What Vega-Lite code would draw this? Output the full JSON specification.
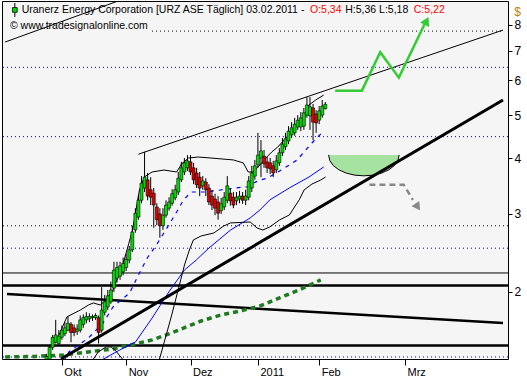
{
"$schema": "https://vega.github.io/schema/vega-lite/v6.json",
"width": 506, "height": 358,
"autosize": {"type": "none"},
"padding": {"left": 2, "top": 1, "right": 19, "bottom": 21},
"background": "white",
"view": {"fill": "#f5f5f5", "stroke": "#000000", "strokeWidth": 1},
"config": {"font": "Liberation Sans"},
"resolve": {"axis": {"x": "independent", "y": "independent"}},
"datasets": {
"candles": [
{"i":-5,"o":1.40,"h":1.45,"l":1.38,"c":1.43},
{"i":-4,"o":1.41,"h":1.52,"l":1.39,"c":1.50},
{"i":-3,"o":1.50,"h":1.60,"l":1.48,"c":1.58},
{"i":-2,"o":1.54,"h":1.73,"l":1.53,"c":1.60},
{"i":-1,"o":1.53,"h":1.64,"l":1.52,"c":1.59},
{"i":0,"o":1.58,"h":1.68,"l":1.56,"c":1.64},
{"i":1,"o":1.61,"h":1.71,"l":1.59,"c":1.66},
{"i":2,"o":1.64,"h":1.76,"l":1.63,"c":1.70},
{"i":3,"o":1.69,"h":1.71,"l":1.54,"c":1.62},
{"i":4,"o":1.66,"h":1.69,"l":1.59,"c":1.62},
{"i":5,"o":1.63,"h":1.69,"l":1.60,"c":1.65},
{"i":6,"o":1.64,"h":1.77,"l":1.62,"c":1.73},
{"i":7,"o":1.69,"h":1.78,"l":1.66,"c":1.75},
{"i":8,"o":1.73,"h":1.80,"l":1.70,"c":1.76},
{"i":9,"o":1.74,"h":1.79,"l":1.71,"c":1.76},
{"i":10,"o":1.75,"h":1.78,"l":1.72,"c":1.76},
{"i":11,"o":1.75,"h":1.79,"l":1.73,"c":1.77},
{"i":12,"o":1.75,"h":1.77,"l":1.53,"c":1.62},
{"i":13,"o":1.64,"h":2.05,"l":1.62,"c":1.82},
{"i":14,"o":1.80,"h":1.97,"l":1.77,"c":1.90},
{"i":15,"o":1.85,"h":2.02,"l":1.82,"c":1.96},
{"i":16,"o":1.90,"h":2.11,"l":1.88,"c":2.02},
{"i":17,"o":2.04,"h":2.34,"l":2.00,"c":2.24},
{"i":18,"o":2.15,"h":2.34,"l":2.10,"c":2.27},
{"i":19,"o":2.17,"h":2.34,"l":2.13,"c":2.29},
{"i":20,"o":2.22,"h":2.39,"l":2.18,"c":2.32},
{"i":21,"o":2.27,"h":2.44,"l":2.23,"c":2.37},
{"i":22,"o":2.36,"h":2.54,"l":2.32,"c":2.49},
{"i":23,"o":2.49,"h":2.82,"l":2.46,"c":2.73},
{"i":24,"o":2.76,"h":3.09,"l":2.72,"c":3.01},
{"i":25,"o":2.95,"h":3.31,"l":2.91,"c":3.22},
{"i":26,"o":3.22,"h":3.65,"l":3.17,"c":3.52},
{"i":27,"o":3.43,"h":4.14,"l":3.36,"c":3.63},
{"i":28,"o":3.58,"h":3.71,"l":3.22,"c":3.29},
{"i":29,"o":3.40,"h":3.63,"l":3.14,"c":3.27},
{"i":30,"o":3.34,"h":3.43,"l":2.79,"c":3.14},
{"i":31,"o":3.11,"h":3.17,"l":2.83,"c":2.91},
{"i":32,"o":3.00,"h":3.09,"l":2.65,"c":2.82},
{"i":33,"o":2.82,"h":3.09,"l":2.76,"c":2.98},
{"i":34,"o":2.98,"h":3.22,"l":2.94,"c":3.14},
{"i":35,"o":3.09,"h":3.27,"l":3.05,"c":3.19},
{"i":36,"o":3.17,"h":3.41,"l":3.13,"c":3.33},
{"i":37,"o":3.26,"h":3.49,"l":3.22,"c":3.40},
{"i":38,"o":3.36,"h":3.73,"l":3.31,"c":3.61},
{"i":39,"o":3.58,"h":3.93,"l":3.54,"c":3.81},
{"i":40,"o":3.73,"h":4.01,"l":3.67,"c":3.91},
{"i":41,"o":3.81,"h":4.07,"l":3.75,"c":3.95},
{"i":42,"o":3.93,"h":4.07,"l":3.67,"c":3.73},
{"i":43,"o":3.81,"h":3.91,"l":3.50,"c":3.58},
{"i":44,"o":3.71,"h":3.81,"l":3.43,"c":3.49},
{"i":45,"o":3.63,"h":3.73,"l":3.29,"c":3.43},
{"i":46,"o":3.47,"h":3.65,"l":3.40,"c":3.56},
{"i":47,"o":3.54,"h":3.61,"l":3.29,"c":3.40},
{"i":48,"o":3.43,"h":3.50,"l":3.14,"c":3.19},
{"i":49,"o":3.29,"h":3.40,"l":3.06,"c":3.14},
{"i":50,"o":3.24,"h":3.33,"l":2.98,"c":3.09},
{"i":51,"o":3.19,"h":3.29,"l":2.91,"c":3.01},
{"i":52,"o":3.05,"h":3.26,"l":3.00,"c":3.16},
{"i":53,"o":3.11,"h":3.36,"l":3.06,"c":3.27},
{"i":54,"o":3.22,"h":3.65,"l":3.17,"c":3.47},
{"i":55,"o":3.34,"h":3.43,"l":3.13,"c":3.21},
{"i":56,"o":3.27,"h":3.36,"l":3.09,"c":3.14},
{"i":57,"o":3.21,"h":3.36,"l":3.14,"c":3.27},
{"i":58,"o":3.24,"h":3.38,"l":3.17,"c":3.29},
{"i":59,"o":3.29,"h":3.36,"l":3.16,"c":3.22},
{"i":60,"o":3.22,"h":3.40,"l":3.14,"c":3.29},
{"i":61,"o":3.27,"h":3.65,"l":3.22,"c":3.56},
{"i":62,"o":3.43,"h":3.85,"l":3.36,"c":3.71},
{"i":63,"o":3.65,"h":3.97,"l":3.58,"c":3.85},
{"i":64,"o":3.87,"h":4.57,"l":3.81,"c":4.07},
{"i":65,"o":4.01,"h":4.40,"l":3.63,"c":4.16},
{"i":66,"o":4.05,"h":4.18,"l":3.81,"c":3.89},
{"i":67,"o":3.93,"h":4.03,"l":3.71,"c":3.81},
{"i":68,"o":3.91,"h":4.01,"l":3.69,"c":3.79},
{"i":69,"o":3.85,"h":3.95,"l":3.63,"c":3.71},
{"i":70,"o":3.77,"h":4.07,"l":3.71,"c":3.95},
{"i":71,"o":3.91,"h":4.22,"l":3.85,"c":4.12},
{"i":72,"o":4.12,"h":4.45,"l":4.05,"c":4.31},
{"i":73,"o":4.25,"h":4.57,"l":4.18,"c":4.43},
{"i":74,"o":4.38,"h":4.73,"l":4.31,"c":4.61},
{"i":75,"o":4.52,"h":4.83,"l":4.45,"c":4.69},
{"i":76,"o":4.57,"h":4.94,"l":4.50,"c":4.78},
{"i":77,"o":4.71,"h":5.01,"l":4.64,"c":4.88},
{"i":78,"o":4.71,"h":5.09,"l":4.61,"c":4.94},
{"i":79,"o":4.73,"h":5.20,"l":4.64,"c":5.07},
{"i":80,"o":5.01,"h":5.50,"l":4.94,"c":5.28},
{"i":81,"o":4.99,"h":5.50,"l":4.64,"c":5.23},
{"i":82,"o":5.20,"h":5.31,"l":4.40,"c":4.83},
{"i":83,"o":5.04,"h":5.14,"l":4.57,"c":4.81},
{"i":84,"o":4.88,"h":5.25,"l":4.78,"c":5.12},
{"i":85,"o":5.01,"h":5.42,"l":4.94,"c":5.25},
{"i":86,"o":5.18,"h":5.36,"l":5.16,"c":5.30}
],
"trendA": [{"i":-18.54,"v":7.32},{"i":23.06,"v":9.31}],
"trendB": [{"i":25.0,"v":4.09},{"i":144,"v":7.79}],
"rise": [{"i":-0.3,"v":1.412},{"i":144,"v":5.42}],
"fall": [{"i":-17.9,"v":1.979},{"i":144,"v":1.703}],
"maGreen": [{"i":-18.5,"v":1.427},{"i":-8.9,"v":1.431},{"i":0.69,"v":1.442},{"i":8.69,"v":1.465},{"i":16.69,"v":1.488},{"i":24.05,"v":1.527},{"i":29.48,"v":1.559},{"i":34.92,"v":1.608},{"i":40.68,"v":1.668},{"i":45.48,"v":1.720},{"i":51.88,"v":1.775},{"i":58.28,"v":1.812},{"i":64.67,"v":1.860},{"i":71.07,"v":1.939},{"i":77.47,"v":2.021},{"i":84.51,"v":2.129}],
"maBlue": [{"i":11.89,"v":1.391},{"i":18.93,"v":1.480},{"i":24.05,"v":1.543},{"i":29.48,"v":1.747},{"i":34.92,"v":2.0},{"i":40.04,"v":2.242},{"i":43.88,"v":2.361},{"i":48.04,"v":2.513},{"i":55.08,"v":2.759},{"i":61.48,"v":2.937},{"i":64.67,"v":3.062},{"i":67.87,"v":3.225},{"i":74.27,"v":3.432},{"i":80.67,"v":3.633},{"i":85.47,"v":3.827}],
"maBlueDash": [{"i":0.69,"v":1.391},{"i":2.29,"v":1.465},{"i":8.69,"v":1.575},{"i":13.49,"v":1.703},{"i":16.69,"v":1.850},{"i":22.13,"v":1.990},{"i":25.33,"v":2.207},{"i":27.89,"v":2.386},{"i":31.08,"v":2.566},{"i":34.92,"v":2.832},{"i":37.48,"v":3.030},{"i":39.72,"v":3.225},{"i":42.28,"v":3.361},{"i":47.08,"v":3.361},{"i":51.88,"v":3.396},{"i":56.68,"v":3.432},{"i":60.51,"v":3.452},{"i":62.43,"v":3.519},{"i":64.67,"v":3.576},{"i":67.23,"v":3.614},{"i":72.67,"v":3.807},{"i":76.83,"v":3.969},{"i":79.07,"v":4.137},{"i":81.63,"v":4.335},{"i":84.83,"v":4.567}],
"bandUp": [{"i":-0.91,"v":1.600},{"i":1.65,"v":1.757},{"i":6.13,"v":1.822},{"i":8.69,"v":1.869},{"i":10.29,"v":1.889},{"i":12.53,"v":1.869},{"i":14.45,"v":1.919},{"i":16.69,"v":2.021},{"i":19.89,"v":2.301},{"i":23.09,"v":2.759},{"i":25.33,"v":3.396},{"i":26.93,"v":3.633},{"i":29.48,"v":3.729},{"i":33.32,"v":3.767},{"i":37.48,"v":3.729},{"i":39.08,"v":3.888},{"i":41.32,"v":4.009},{"i":44.52,"v":4.030},{"i":48.68,"v":4.009},{"i":56.04,"v":3.969},{"i":59.24,"v":3.908},{"i":60.83,"v":3.729},{"i":62.43,"v":3.729},{"i":64.67,"v":3.867},{"i":66.91,"v":4.030},{"i":68.51,"v":4.137},{"i":70.43,"v":4.242},{"i":74.91,"v":4.589},{"i":79.07,"v":4.936},{"i":80.67,"v":5.280},{"i":82.91,"v":5.420},{"i":85.47,"v":5.560}],
"bandLo1": [{"i":9.65,"v":1.391},{"i":11.89,"v":1.465},{"i":14.45,"v":1.503},{"i":16.05,"v":1.503},{"i":17.65,"v":1.472},{"i":20.53,"v":1.391}],
"bandLo2": [{"i":31.08,"v":1.348},{"i":35.88,"v":1.775},{"i":40.04,"v":2.301},{"i":41.64,"v":2.487},{"i":42.92,"v":2.620},{"i":45.48,"v":2.675},{"i":49.64,"v":2.717},{"i":52.84,"v":2.817},{"i":55.08,"v":2.862},{"i":61.48,"v":2.876},{"i":63.71,"v":2.788},{"i":65.63,"v":2.759},{"i":67.87,"v":2.803},{"i":71.07,"v":2.907},{"i":74.27,"v":2.983},{"i":77.47,"v":3.225},{"i":79.07,"v":3.396},{"i":81.63,"v":3.502},{"i":84.51,"v":3.576},{"i":86.11,"v":3.633}],
"arrowUp": [{"i":89.21,"v":5.688},{"i":97.94,"v":5.688},{"i":103.92,"v":6.943},{"i":110.0,"v":6.086},{"i":118.42,"v":8.043}],
"arrowUpHead": [{"i":119.05,"v":8.17}],
"arrowDown": [{"i":100.4,"v":3.491},{"i":111.6,"v":3.491},{"i":114.58,"v":3.225}],
"arrowDownHead": [{"i":116.16,"v":3.109}],
"bowl": [{"i":87.07,"v":4.075},{"i":87.45,"v":3.960},{"i":88.60,"v":3.856},{"i":90.42,"v":3.771},{"i":92.82,"v":3.707},{"i":95.61,"v":3.668},{"i":98.58,"v":3.655},{"i":101.56,"v":3.668},{"i":104.34,"v":3.707},{"i":106.74,"v":3.771},{"i":108.56,"v":3.856},{"i":109.72,"v":3.960},{"i":110.10,"v":4.075}]
},
"layer": [
{"data": {"values": [{}]}, "mark": {"type": "rule", "color": "#0000ff", "strokeDash": [1, 3], "strokeWidth": 1},
 "encoding": {"y": {"datum": 6.42, "scale": {"type": "log", "domain": [1.412, 9.06], "nice": false}, "axis": null}}},
{"data": {"values": [{}]}, "mark": {"type": "rule", "color": "#0000ff", "strokeDash": [1, 3], "strokeWidth": 1},
 "encoding": {"y": {"datum": 4.48, "scale": {"type": "log", "domain": [1.412, 9.06], "nice": false}, "axis": null}}},
{"data": {"values": [{}]}, "mark": {"type": "rule", "color": "#0000ff", "strokeDash": [1, 3], "strokeWidth": 1},
 "encoding": {"y": {"datum": 2.51, "scale": {"type": "log", "domain": [1.412, 9.06], "nice": false}, "axis": null}}},
{"data": {"values": [{}]}, "mark": {"type": "rule", "color": "#0000ff", "strokeDash": [1, 3], "strokeWidth": 1},
 "encoding": {"y": {"datum": 1.427, "scale": {"type": "log", "domain": [1.412, 9.06], "nice": false}, "axis": null}}},
{"data": {"values": [{}]}, "mark": {"type": "rule", "color": "#000000", "strokeDash": [1, 3], "strokeWidth": 1},
 "encoding": {"y": {"datum": 2.82, "scale": {"type": "log", "domain": [1.412, 9.06], "nice": false}, "axis": null}}},
{"data": {"values": [{}]}, "mark": {"type": "rule", "color": "#000000", "strokeDash": [1, 3], "strokeWidth": 1},
 "encoding": {"x": {"datum": 29.45, "scale": {"domain": [-17.9, 144], "nice": false, "zero": false}, "axis": null}, "x2": {"datum": 144},
  "y": {"datum": 7.75, "scale": {"type": "log", "domain": [1.412, 9.06], "nice": false}, "axis": null}}},
{"data": {"values": [{}]}, "mark": {"type": "rule", "color": "#000000", "strokeWidth": 1},
 "encoding": {"y": {"datum": 2.207, "scale": {"type": "log", "domain": [1.412, 9.06], "nice": false}, "axis": null}}},
{"data": {"values": [{}]}, "mark": {"type": "rule", "color": "#000000", "strokeWidth": 2.5},
 "encoding": {"y": {"datum": 2.069, "scale": {"type": "log", "domain": [1.412, 9.06], "nice": false}, "axis": null}}},
{"data": {"values": [{}]}, "mark": {"type": "rule", "color": "#000000", "strokeWidth": 2.5},
 "encoding": {"y": {"datum": 1.515, "scale": {"type": "log", "domain": [1.412, 9.06], "nice": false}, "axis": null}}},
{"data": {"name": "fall"}, "mark": {"type": "line", "color": "#000000", "strokeWidth": 2.5, "clip": true},
 "encoding": {"x": {"field": "i", "type": "quantitative", "scale": {"domain": [-17.9, 144], "nice": false, "zero": false}, "axis": null},
  "y": {"field": "v", "type": "quantitative", "scale": {"type": "log", "domain": [1.412, 9.06], "nice": false}, "axis": null}}},
{"data": {"name": "maGreen"}, "mark": {"type": "line", "color": "#1e7a1e", "strokeWidth": 3.5, "strokeDash": [5, 4], "clip": true},
 "encoding": {"x": {"field": "i", "type": "quantitative", "scale": {"domain": [-17.9, 144], "nice": false, "zero": false}, "axis": null},
  "y": {"field": "v", "type": "quantitative", "scale": {"type": "log", "domain": [1.412, 9.06], "nice": false}, "axis": null}}},
{"data": {"name": "maBlue"}, "mark": {"type": "line", "color": "#0000ff", "strokeWidth": 1, "clip": true},
 "encoding": {"x": {"field": "i", "type": "quantitative", "scale": {"domain": [-17.9, 144], "nice": false, "zero": false}, "axis": null},
  "y": {"field": "v", "type": "quantitative", "scale": {"type": "log", "domain": [1.412, 9.06], "nice": false}, "axis": null}}},
{"data": {"name": "maBlueDash"}, "mark": {"type": "line", "color": "#0000ff", "strokeWidth": 1.2, "strokeDash": [4, 5], "clip": true},
 "encoding": {"x": {"field": "i", "type": "quantitative", "scale": {"domain": [-17.9, 144], "nice": false, "zero": false}, "axis": null},
  "y": {"field": "v", "type": "quantitative", "scale": {"type": "log", "domain": [1.412, 9.06], "nice": false}, "axis": null}}},
{"data": {"name": "bandUp"}, "mark": {"type": "line", "color": "#000000", "strokeWidth": 1, "clip": true},
 "encoding": {"x": {"field": "i", "type": "quantitative", "scale": {"domain": [-17.9, 144], "nice": false, "zero": false}, "axis": null},
  "y": {"field": "v", "type": "quantitative", "scale": {"type": "log", "domain": [1.412, 9.06], "nice": false}, "axis": null}}},
{"data": {"name": "bandLo1"}, "mark": {"type": "line", "color": "#000000", "strokeWidth": 1, "clip": true},
 "encoding": {"x": {"field": "i", "type": "quantitative", "scale": {"domain": [-17.9, 144], "nice": false, "zero": false}, "axis": null},
  "y": {"field": "v", "type": "quantitative", "scale": {"type": "log", "domain": [1.412, 9.06], "nice": false}, "axis": null}}},
{"data": {"name": "bandLo2"}, "mark": {"type": "line", "color": "#000000", "strokeWidth": 1, "clip": true},
 "encoding": {"x": {"field": "i", "type": "quantitative", "scale": {"domain": [-17.9, 144], "nice": false, "zero": false}, "axis": null},
  "y": {"field": "v", "type": "quantitative", "scale": {"type": "log", "domain": [1.412, 9.06], "nice": false}, "axis": null}}},
{"data": {"name": "trendA"}, "mark": {"type": "line", "color": "#000000", "strokeWidth": 1, "clip": true},
 "encoding": {"x": {"field": "i", "type": "quantitative", "scale": {"domain": [-17.9, 144], "nice": false, "zero": false}, "axis": null},
  "y": {"field": "v", "type": "quantitative", "scale": {"type": "log", "domain": [1.412, 9.06], "nice": false}, "axis": null}}},
{"data": {"name": "trendB"}, "mark": {"type": "line", "color": "#000000", "strokeWidth": 1, "clip": true},
 "encoding": {"x": {"field": "i", "type": "quantitative", "scale": {"domain": [-17.9, 144], "nice": false, "zero": false}, "axis": null},
  "y": {"field": "v", "type": "quantitative", "scale": {"type": "log", "domain": [1.412, 9.06], "nice": false}, "axis": null}}},
{"data": {"name": "bowl"}, "mark": {"type": "area", "color": "#a6e2a0", "opacity": 1, "clip": true},
 "encoding": {"x": {"field": "i", "type": "quantitative", "scale": {"domain": [-17.9, 144], "nice": false, "zero": false}, "axis": null},
  "y": {"field": "v", "type": "quantitative", "scale": {"type": "log", "domain": [1.412, 9.06], "nice": false}, "axis": null},
  "y2": {"datum": 4.075}}},
{"data": {"name": "bowl"}, "mark": {"type": "line", "color": "#000000", "strokeWidth": 1, "clip": true},
 "encoding": {"x": {"field": "i", "type": "quantitative", "scale": {"domain": [-17.9, 144], "nice": false, "zero": false}, "axis": null},
  "y": {"field": "v", "type": "quantitative", "scale": {"type": "log", "domain": [1.412, 9.06], "nice": false}, "axis": null}}},
{"data": {"name": "rise"}, "mark": {"type": "line", "color": "#000000", "strokeWidth": 3, "clip": true},
 "encoding": {"x": {"field": "i", "type": "quantitative", "scale": {"domain": [-17.9, 144], "nice": false, "zero": false}, "axis": null},
  "y": {"field": "v", "type": "quantitative", "scale": {"type": "log", "domain": [1.412, 9.06], "nice": false}, "axis": null}}},
{"data": {"name": "arrowDown"}, "mark": {"type": "line", "color": "#888888", "strokeWidth": 2.5, "strokeDash": [6, 4], "clip": true},
 "encoding": {"x": {"field": "i", "type": "quantitative", "scale": {"domain": [-17.9, 144], "nice": false, "zero": false}, "axis": null},
  "y": {"field": "v", "type": "quantitative", "scale": {"type": "log", "domain": [1.412, 9.06], "nice": false}, "axis": null}}},
{"data": {"name": "arrowDownHead"}, "mark": {"type": "point", "shape": "triangle-up", "filled": true, "color": "#888888", "size": 90, "angle": 145, "opacity": 1},
 "encoding": {"x": {"field": "i", "type": "quantitative", "scale": {"domain": [-17.9, 144], "nice": false, "zero": false}, "axis": null},
  "y": {"field": "v", "type": "quantitative", "scale": {"type": "log", "domain": [1.412, 9.06], "nice": false}, "axis": null}}},
{"data": {"name": "arrowUp"}, "mark": {"type": "line", "color": "#33cc33", "strokeWidth": 2.5, "clip": true},
 "encoding": {"x": {"field": "i", "type": "quantitative", "scale": {"domain": [-17.9, 144], "nice": false, "zero": false}, "axis": null},
  "y": {"field": "v", "type": "quantitative", "scale": {"type": "log", "domain": [1.412, 9.06], "nice": false}, "axis": null}}},
{"data": {"name": "arrowUpHead"}, "mark": {"type": "point", "shape": "triangle-up", "filled": true, "color": "#33cc33", "size": 100, "angle": 26, "opacity": 1},
 "encoding": {"x": {"field": "i", "type": "quantitative", "scale": {"domain": [-17.9, 144], "nice": false, "zero": false}, "axis": null},
  "y": {"field": "v", "type": "quantitative", "scale": {"type": "log", "domain": [1.412, 9.06], "nice": false}, "axis": null}}},
{"data": {"name": "candles"}, "mark": {"type": "rule", "color": "#000000", "strokeWidth": 1, "clip": true},
 "encoding": {
  "x": {"field": "i", "type": "quantitative", "scale": {"domain": [-17.9, 144], "nice": false, "zero": false},
   "axis": {"values": [0, 21, 42, 64, 84, 112], "labelExpr": "datum.value==0?'Okt':datum.value==21?'Nov':datum.value==42?'Dez':datum.value==64?'2011':datum.value==84?'Feb':'Mrz'",
    "labelAlign": "left", "labelBaseline": "top", "labelOffset": 2, "labelPadding": 1, "labelFontSize": 11, "labelColor": "#000000", "labelFont": "Liberation Sans",
    "tickColor": "#000000", "tickSize": 6, "domain": false, "grid": false, "title": null, "labelOverlap": false, "labelFlush": false}},
  "y": {"field": "l", "type": "quantitative", "scale": {"type": "log", "domain": [1.412, 9.06], "nice": false},
   "axis": {"orient": "right", "values": [2, 3, 4, 5, 6, 7, 8], "format": "d", "labelFontSize": 12, "labelColor": "#000000", "labelFont": "Liberation Sans",
    "tickColor": "#000000", "tickSize": 4, "labelPadding": 2, "domain": false, "grid": false, "labelOverlap": false, "labelFlush": false,
    "title": "$", "titleAngle": 0, "titleX": 9, "titleY": 10, "titleColor": "#b8860b", "titleFontWeight": "normal", "titleFontSize": 12, "titleFont": "Liberation Sans", "titleAlign": "center", "titleBaseline": "middle"}},
  "y2": {"field": "h"}}},
{"data": {"name": "candles"}, "mark": {"type": "bar", "size": 3, "stroke": "#000000", "strokeWidth": 0.6, "clip": true},
 "encoding": {"x": {"field": "i", "type": "quantitative", "scale": {"domain": [-17.9, 144], "nice": false, "zero": false}, "axis": null},
  "y": {"field": "o", "type": "quantitative", "scale": {"type": "log", "domain": [1.412, 9.06], "nice": false}, "axis": null},
  "y2": {"field": "c"},
  "color": {"condition": {"test": "datum.c >= datum.o", "value": "#00dd00"}, "value": "#dd0000"}}},
{"data": {"values": [{}]}, "mark": {"type": "rule", "color": "#000000", "strokeWidth": 1},
 "encoding": {"x": {"datum": -15.34, "scale": {"domain": [-17.9, 144], "nice": false, "zero": false}, "axis": null},
  "y": {"datum": 8.34, "scale": {"type": "log", "domain": [1.412, 9.06], "nice": false}, "axis": null}, "y2": {"datum": 8.97}}},
{"data": {"values": [{}]}, "mark": {"type": "point", "shape": "square", "filled": true, "color": "#00dd00", "stroke": "#000000", "strokeWidth": 0.8, "size": 22, "opacity": 1},
 "encoding": {"x": {"datum": -15.34, "scale": {"domain": [-17.9, 144], "nice": false, "zero": false}, "axis": null},
  "y": {"datum": 8.65, "scale": {"type": "log", "domain": [1.412, 9.06], "nice": false}, "axis": null}}},
{"data": {"values": [{}]}, "mark": {"type": "text", "align": "left", "baseline": "middle", "fontSize": 10.5, "font": "Liberation Sans", "color": "#000000", "text": "Uranerz Energy Corporation [URZ ASE  Täglich] 03.02.2011 -"},
 "encoding": {"x": {"datum": -13.1, "scale": {"domain": [-17.9, 144], "nice": false, "zero": false}, "axis": null},
  "y": {"datum": 8.646, "scale": {"type": "log", "domain": [1.412, 9.06], "nice": false}, "axis": null}}},
{"data": {"values": [{}]}, "mark": {"type": "text", "align": "left", "baseline": "middle", "fontSize": 10.5, "font": "Liberation Sans", "color": "#ff0000", "text": "O:5,34"},
 "encoding": {"x": {"datum": 81.0, "scale": {"domain": [-17.9, 144], "nice": false, "zero": false}, "axis": null},
  "y": {"datum": 8.646, "scale": {"type": "log", "domain": [1.412, 9.06], "nice": false}, "axis": null}}},
{"data": {"values": [{}]}, "mark": {"type": "text", "align": "left", "baseline": "middle", "fontSize": 10.5, "font": "Liberation Sans", "color": "#000000", "text": "H:5,36 L:5,18"},
 "encoding": {"x": {"datum": 92.49, "scale": {"domain": [-17.9, 144], "nice": false, "zero": false}, "axis": null},
  "y": {"datum": 8.646, "scale": {"type": "log", "domain": [1.412, 9.06], "nice": false}, "axis": null}}},
{"data": {"values": [{}]}, "mark": {"type": "text", "align": "left", "baseline": "middle", "fontSize": 10.5, "font": "Liberation Sans", "color": "#ff0000", "text": "C:5,22"},
 "encoding": {"x": {"datum": 114.88, "scale": {"domain": [-17.9, 144], "nice": false, "zero": false}, "axis": null},
  "y": {"datum": 8.646, "scale": {"type": "log", "domain": [1.412, 9.06], "nice": false}, "axis": null}}},
{"data": {"values": [{}]}, "mark": {"type": "text", "align": "left", "baseline": "middle", "fontSize": 10.5, "font": "Liberation Sans", "color": "#000000", "text": "© www.tradesignalonline.com"},
 "encoding": {"x": {"datum": -16.94, "scale": {"domain": [-17.9, 144], "nice": false, "zero": false}, "axis": null},
  "y": {"datum": 7.96, "scale": {"type": "log", "domain": [1.412, 9.06], "nice": false}, "axis": null}}}
]
}
